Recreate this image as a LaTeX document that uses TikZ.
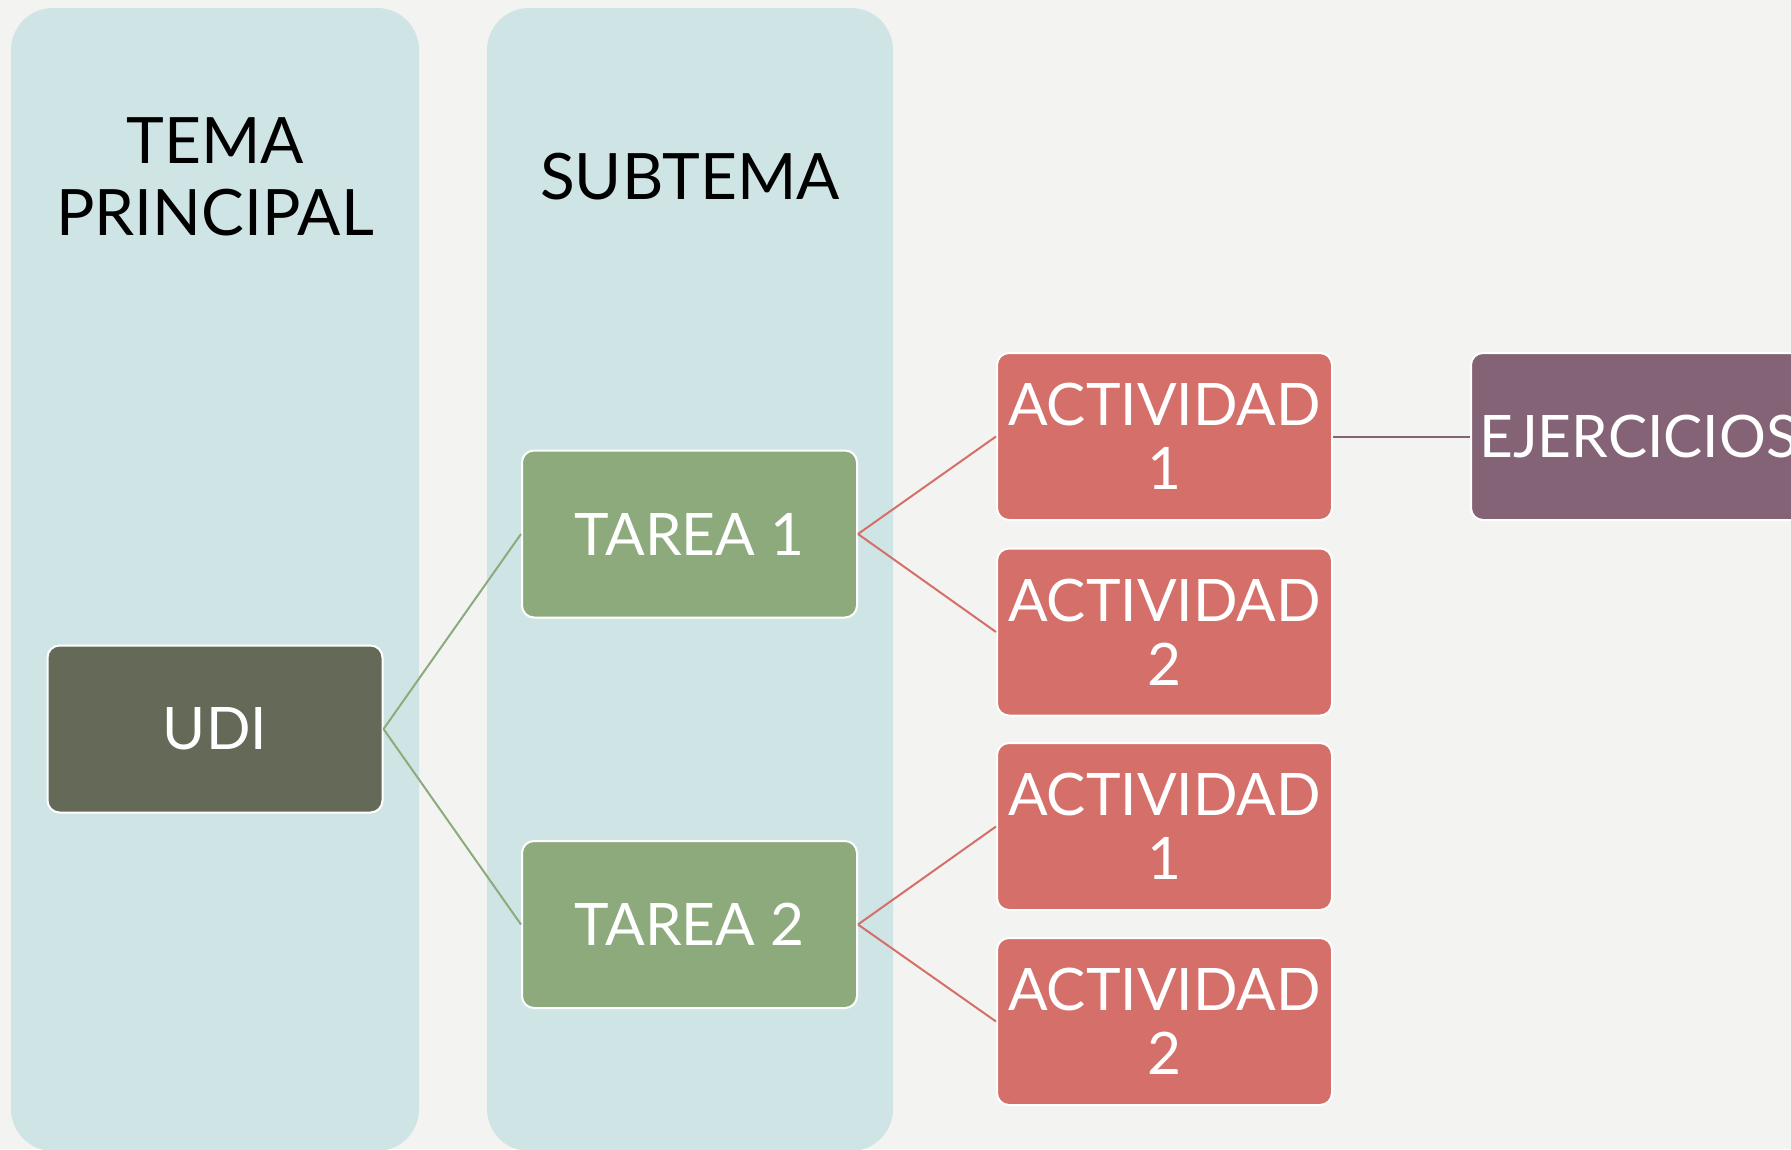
\documentclass[tikz,border=0pt]{standalone}
\usepackage{fontspec}
\setmainfont{Lato}
\definecolor{bgc}{HTML}{F3F3F1}
\definecolor{colc}{HTML}{CFE4E5}
\definecolor{udic}{HTML}{646A57}
\definecolor{tarc}{HTML}{8DAA7D}
\definecolor{actc}{HTML}{D46F69}
\definecolor{ejc}{HTML}{836375}
\begin{document}
\begin{tikzpicture}[x=1pt,y=-1pt,
  box/.style={draw=white, line width=2pt, rounded corners=12pt,
    minimum width=335pt, minimum height=167pt, inner sep=0pt,
    text=white, font=\fontsize{58.6}{64}\selectfont, align=center},
  colbox/.style={fill=colc, rounded corners=42pt},
  head/.style={font=\fontsize{64}{72}\selectfont, align=center, text=black},
  conn/.style={line width=2pt}]
\fill[bgc] (0,0) rectangle (1791,1149);
\useasboundingbox (0,0) rectangle (1791,1149);
\fill[colbox] (11,8) rectangle (419,1151);
\fill[colbox] (487,8) rectangle (893,1151);
\node[head] (tema) at (215,177) {TEMA\\PRINCIPAL};
\node[head] (subtema) at (690,177) {SUBTEMA};
\node[box, fill=udic] (udi) at (215,729) {UDI};
\node[box, fill=tarc] (t1) at (689.5,534) {TAREA 1};
\node[box, fill=tarc] (t2) at (689.5,924.5) {TAREA 2};
\node[box, fill=actc] (a1) at (1164.5,436.5) {ACTIVIDAD\\1};
\node[box, fill=actc] (a2) at (1164.5,632) {ACTIVIDAD\\2};
\node[box, fill=actc] (a3) at (1164.5,826.5) {ACTIVIDAD\\1};
\node[box, fill=actc] (a4) at (1164.5,1021.5) {ACTIVIDAD\\2};
\node[box, fill=ejc] (ej) at (1638.5,436.5) {EJERCICIOS};
\draw[conn, tarc] (udi.east) -- (t1.west);
\draw[conn, tarc] (udi.east) -- (t2.west);
\draw[conn, actc] (t1.east) -- (a1.west);
\draw[conn, actc] (t1.east) -- (a2.west);
\draw[conn, actc] (t2.east) -- (a3.west);
\draw[conn, actc] (t2.east) -- (a4.west);
\draw[conn, ejc] (a1.east) -- (ej.west);
\end{tikzpicture}
\end{document}
